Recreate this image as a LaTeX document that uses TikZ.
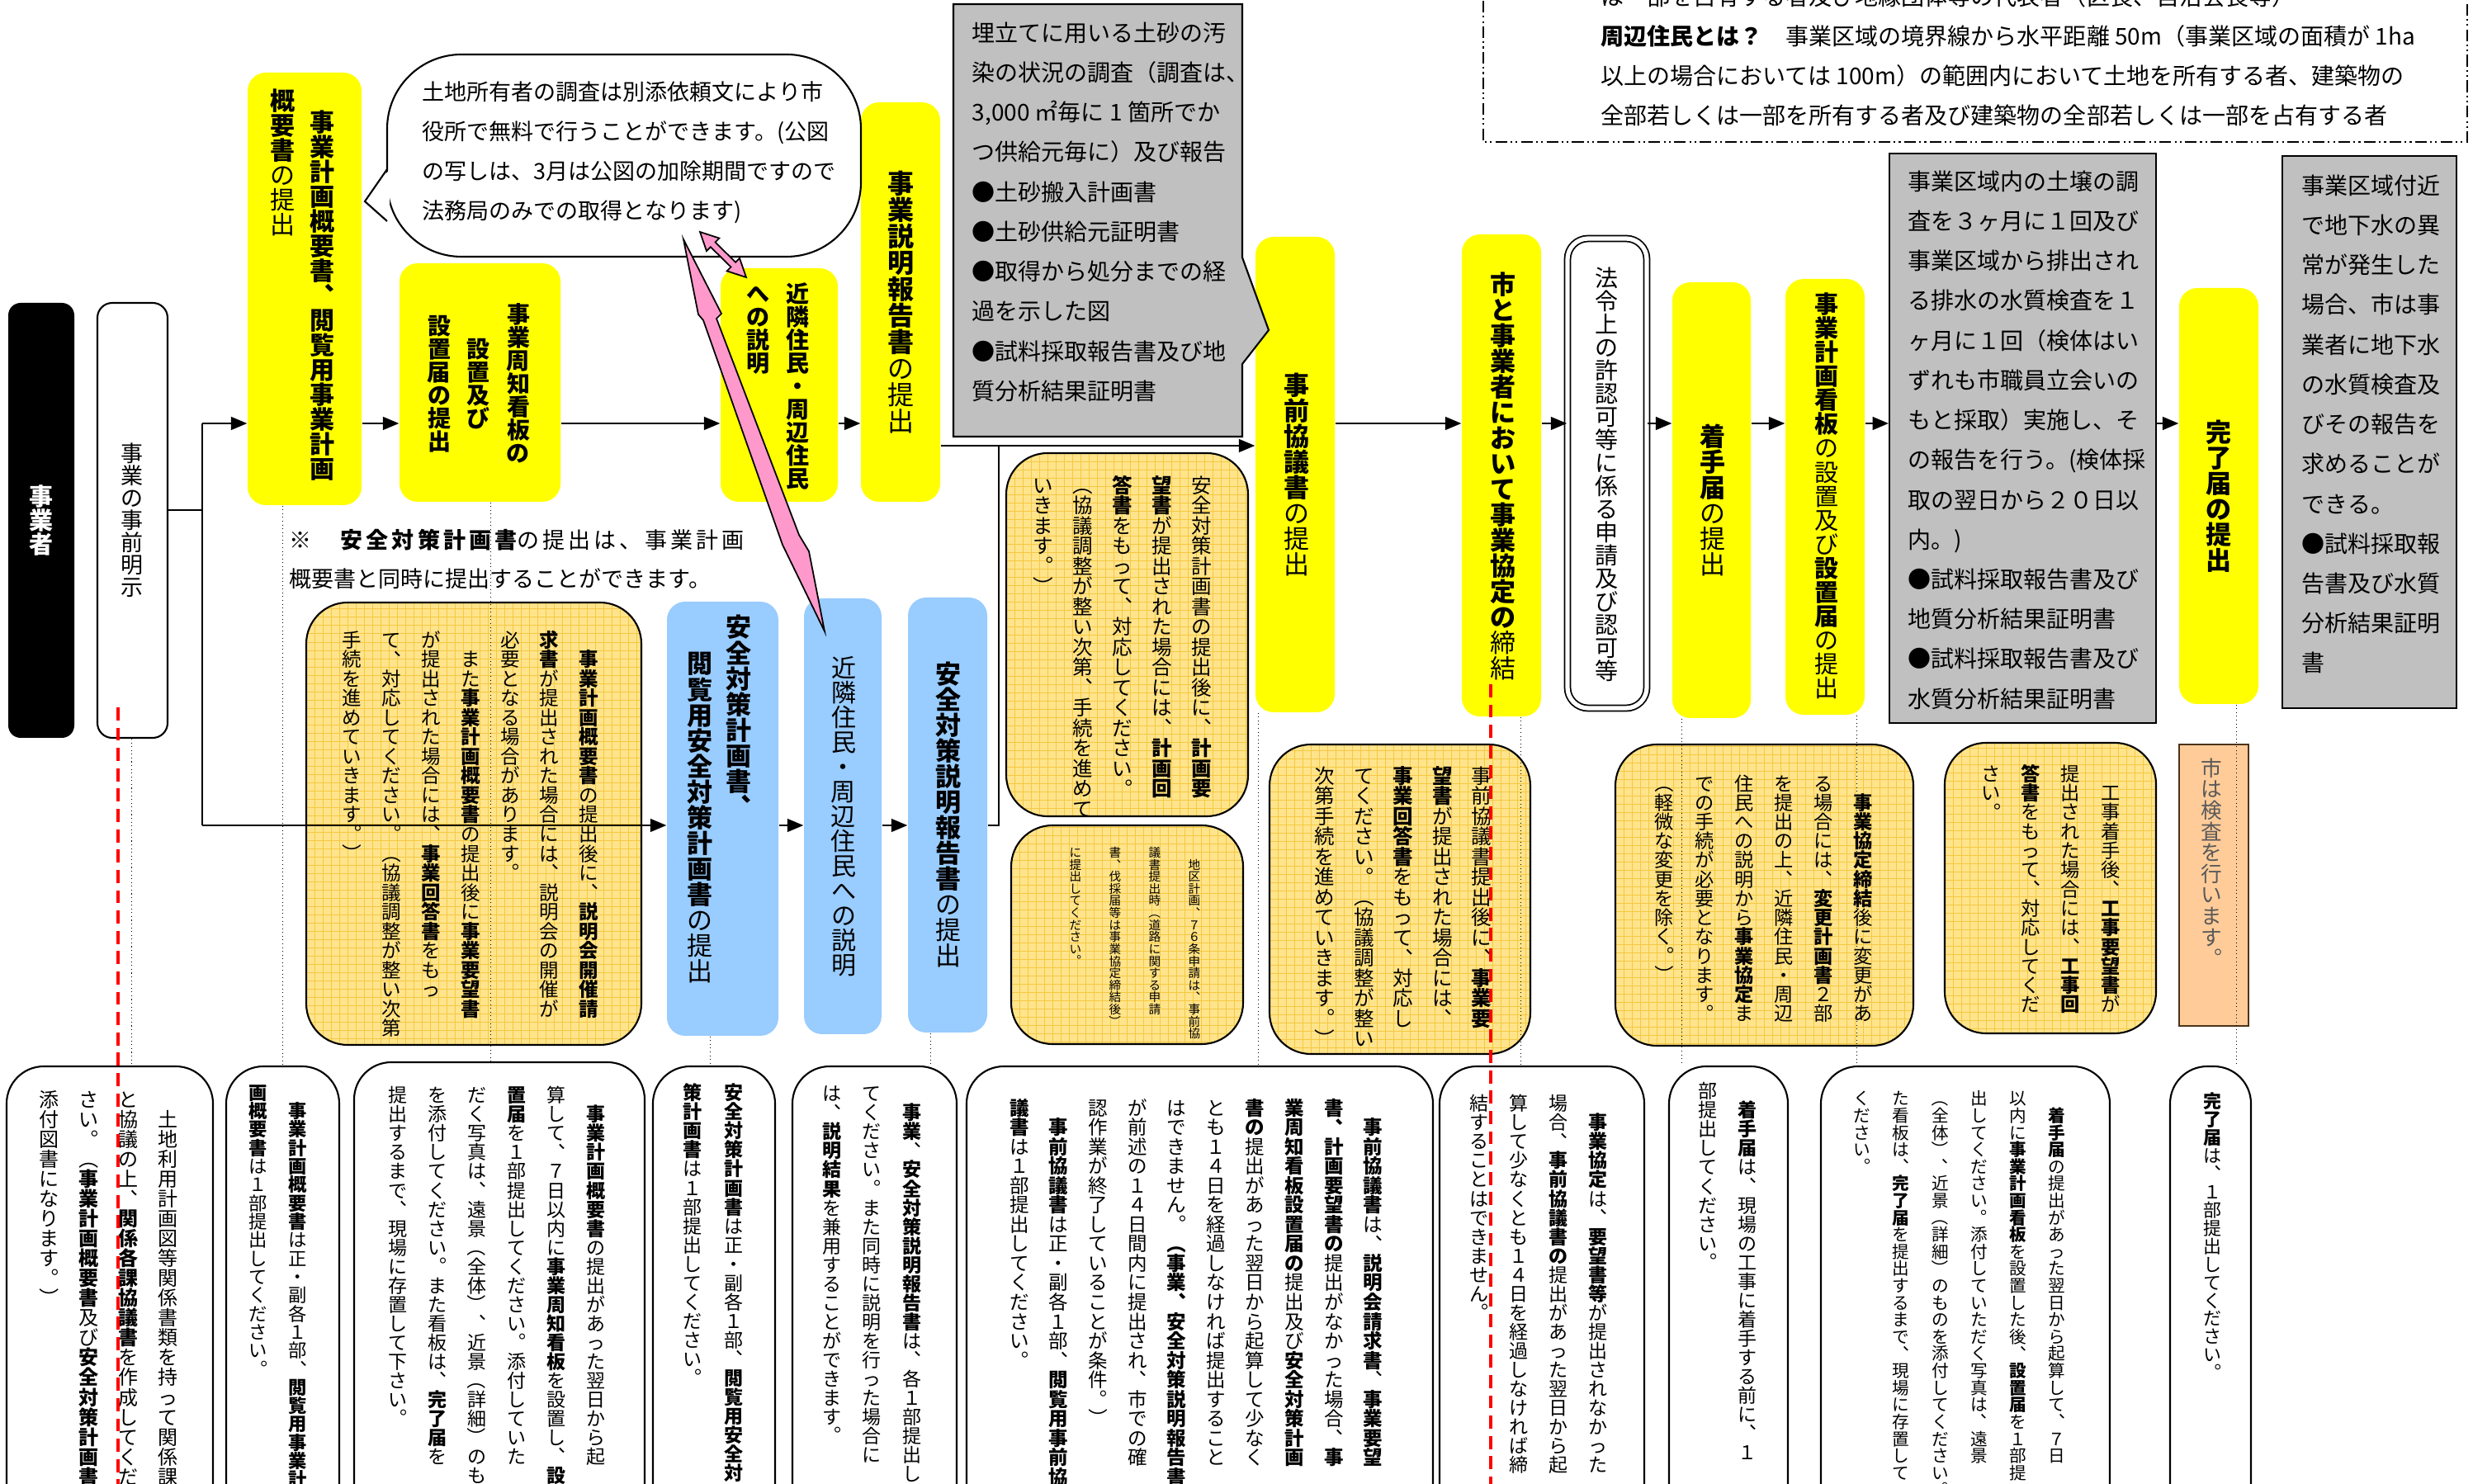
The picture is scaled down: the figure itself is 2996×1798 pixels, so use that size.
\documentclass[tikz,border=0pt]{standalone}
\usepackage{fontspec}
\usepackage{graphicx}
\usetikzlibrary{arrows.meta,fit}
\newfontfamily\hjp{Noto Sans CJK JP}
\definecolor{flowyellow}{HTML}{FFFF00}
\definecolor{flowblue}{HTML}{99CCFF}
\definecolor{notegray}{HTML}{C0C0C0}
\definecolor{memoyellow}{HTML}{FFE48C}
\definecolor{memogrid}{HTML}{F5C842}
\definecolor{checkorange}{HTML}{FFCC99}
\definecolor{linkpink}{HTML}{FF99CC}
\newcommand\sz[2]{\fontsize{\fpeval{#1*0.2845}pt}{\fpeval{#2*0.2845}pt}\selectfont}
\newcommand\bd[1]{{\bfseries#1}}

% vertical (tategaki) columns: every glyph is turned so that it stands upright
% once the whole node is turned by -90
\ExplSyntaxOn
\seq_new:N \l__vt_lines_seq
\tl_const:Nn \c__vt_side_tl { （）「」ー～… }
\tl_const:Nn \c__vt_punct_tl { 、。，． }
\cs_new_protected:Npn \__vt_cell:n #1
  { \hbox_to_wd:nn { 1em } { \hss #1 \hss \vrule ~ height ~ 0.88em ~ depth ~ 0.12em ~ width ~ 0pt } }
\cs_new_protected:Npn \__vt_glyph:N #1
  {
    \tl_if_in:NnTF \c__vt_side_tl {#1}
      { \__vt_cell:n {#1} }
      {
        \tl_if_in:NnTF \c__vt_punct_tl {#1}
          { \rotatebox[origin=c]{-90}{ \__vt_cell:n {#1} } }
          { \rotatebox[origin=c]{90}{ \__vt_cell:n {#1} } }
      }
  }
\cs_new_protected:Npn \__vt_item:n #1
  {
    \tl_if_single_token:nTF {#1}
      { \token_if_cs:NTF #1 {#1} { \__vt_glyph:N #1 } }
      { \group_begin: \__vt_line:n {#1} \group_end: }
  }
\cs_new_protected:Npn \__vt_line:n #1
  { \tl_map_function:nN {#1} \__vt_item:n }
\NewDocumentCommand \vtxt { m }
  {
    \seq_set_split:Nnn \l__vt_lines_seq { \\ } {#1}
    \vbox:n { \seq_map_inline:Nn \l__vt_lines_seq { \hbox:n { \__vt_line:n {##1} } } }
  }
\ExplSyntaxOff

\begin{document}
\begin{tikzpicture}[x=0.01cm, y=-0.01cm,
  stepbox/.style={fill=flowyellow, rounded corners=0.22cm, inner sep=0pt},
  safebox/.style={fill=flowblue, rounded corners=0.22cm, inner sep=0pt},
  graybox/.style={fill=notegray, draw=black, line width=0.6pt, inner sep=0pt},
  memo/.style={draw=black, line width=0.6pt, fill=memoyellow, rounded corners=0.5cm, inner sep=0pt,
    path picture={\draw[memogrid, line width=0.2pt, step=0.1cm] (path picture bounding box.south west) grid (path picture bounding box.north east);}},
  remark/.style={draw=black, line width=0.6pt, fill=white, rounded corners=0.45cm, inner sep=0pt},
  vt/.style n args={2}{rotate=-90, anchor=north west, inner sep=0pt, font=\hjp\sz{#1}{#2}},
  ht/.style n args={2}{anchor=north west, inner sep=0pt, align=left, font=\hjp\sz{#1}{#2}},
  arr/.style={draw, line width=0.5pt, -{Triangle[length=5.5pt,width=4.5pt]}},
  link/.style={draw, line width=0.5pt},
  guide/.style={draw, line width=0.3pt, densely dotted},
  cut/.style={draw=red, line width=1.2pt, dash pattern=on 4.5pt off 2.5pt},
  pinkarrow/.style={fill=linkpink, draw=black, line width=0.5pt}]
\useasboundingbox (0,0) rectangle (2996,1798);
\fill[white] (0,0) rectangle (2996,1798);

% definitions box at the top
\draw[line width=0.5pt, dash pattern=on 4pt off 1.2pt on 0.6pt off 1.2pt on 0.6pt off 1.2pt] (1797,-30) rectangle (2989,172);
\node[ht={28}{48}] (define) at (1939,-18) {は一部を占有する者及び地縁団体等の代表者（区長、自治会長等）\\\bd{周辺住民とは？}　事業区域の境界線から水平距離 50m（事業区域の面積が 1ha\\以上の場合においては 100m）の範囲内において土地を所有する者、建築物の\\全部若しくは一部を所有する者及び建築物の全部若しくは一部を占有する者};

% actor and first step
\node[fill=black, rounded corners=0.15cm, inner sep=0pt, fit={(10,367)(90,894)}] (actor) {};
\node[draw=black, line width=0.6pt, fill=white, rounded corners=0.18cm, inner sep=0pt, fit={(118,367)(203,894)}] (prior) {};

% main steps
\node[stepbox, fit={(300,88)(438,612)}] (outline) {};
\node[stepbox, fit={(484,319)(679,608)}] (notice) {};
\node[stepbox, fit={(873,325)(1015,608)}] (explainA) {};
\node[stepbox, fit={(1043,124)(1139,608)}] (report) {};
\node[stepbox, fit={(1521,287)(1617,863)}] (consult) {};
\node[stepbox, fit={(1771,284)(1867,868)}] (agree) {};
\node[draw=black, double=white, double distance=1.5pt, line width=0.5pt, rounded corners=0.25cm, inner sep=0pt, fit={(1899,289)(1995,858)}] (permit) {};
\node[stepbox, fit={(2026,342)(2121,870)}] (start) {};
\node[stepbox, fit={(2163,338)(2259,866)}] (board) {};
\node[graybox, fit={(2289,186)(2612,876)}] (survey) {};
\node[stepbox, fit={(2640,349)(2736,853)}] (finish) {};
\node[graybox, fit={(2765,189)(2976,858)}] (ground) {};

\node[safebox, fit={(808,729)(943,1255)}] (safety) {};
\node[safebox, fit={(974,725)(1068,1253)}] (explainB) {};
\node[safebox, fit={(1100,724)(1196,1251)}] (safereport) {};

% soil note and land owner bubble
\draw[graybox] (1155,5) -- (1505,5) -- (1505,312) -- (1537,400) -- (1505,441) -- (1505,529) -- (1155,529) -- cycle;
\node[draw=black, line width=0.6pt, fill=white, rounded corners=0.9cm, inner sep=0pt, fit={(469,66)(1043,311)}] (bubble) {};
\fill[white] (472,205) -- (442,244) -- (472,268) -- cycle;
\draw[line width=0.6pt] (469,205) -- (442,244) -- (469,268);

% memos
\node[memo, fit={(371,730)(777,1266)}] (memoA) {};
\node[memo, fit={(1219,549)(1512,989)}] (memoB) {};
\node[memo, fit={(1225,1000)(1506,1265)}] (memoC) {};
\node[memo, fit={(1538,902)(1854,1277)}] (memoD) {};
\node[memo, fit={(1957,902)(2318,1267)}] (memoE) {};
\node[memo, fit={(2356,900)(2612,1252)}] (memoF) {};
\node[fill=checkorange, draw=black!60!brown, line width=0.8pt, inner sep=0pt, fit={(2640,902)(2724,1243)}] (check) {};

% remarks at the bottom
\node[remark, fit={(8,1292)(258,1900)}] (remA) {};
\node[remark, fit={(274,1292)(411,1900)}] (remB) {};
\node[remark, fit={(429,1287)(781,1900)}] (remC) {};
\node[remark, fit={(791,1292)(939,1900)}] (remD) {};
\node[remark, fit={(960,1292)(1159,1900)}] (remE) {};
\node[remark, fit={(1171,1292)(1736,1900)}] (remF) {};
\node[remark, fit={(1744,1292)(1992,1900)}] (remG) {};
\node[remark, fit={(2022,1292)(2166,1900)}] (remH) {};
\node[remark, fit={(2206,1292)(2556,1900)}] (remI) {};
\node[remark, fit={(2629,1292)(2727,1900)}] (remJ) {};

% connectors
\coordinate (fork) at (245,618);
\coordinate (upper) at (245,513);
\coordinate (lower) at (245,1000);
\coordinate (merge) at (1210,540);
\coordinate (main) at (1700,513);
\draw[link] (prior.east |- fork) -- (fork);
\draw[link] (upper) -- (lower);
\draw[arr] (upper) -- (upper -| outline.west);
\draw[arr] (outline.east |- upper) -- (notice.west |- upper);
\draw[arr] (notice.east |- upper) -- (explainA.west |- upper);
\draw[arr] (explainA.east |- upper) -- (report.west |- upper);
\draw[arr] (report.east |- merge) -- (consult.west |- merge);
\draw[arr] (lower) -- (lower -| safety.west);
\draw[arr] (safety.east |- lower) -- (explainB.west |- lower);
\draw[arr] (explainB.east |- lower) -- (safereport.west |- lower);
\draw[link] (safereport.east |- lower) -| (merge);
\draw[arr] (consult.east |- main) -- (agree.west |- main);
\draw[arr] (agree.east |- main) -- (permit.west |- main);
\draw[arr] (permit.east |- main) -- (start.west |- main);
\draw[arr] (start.east |- main) -- (board.west |- main);
\draw[arr] (board.east |- main) -- (survey.west |- main);
\draw[arr] (survey.east |- main) -- (finish.west |- main);

% pink arrows
\draw[pinkarrow] (828,290) -- (874,380) -- (868,386) -- (968,648) -- (980,668) -- (999,765) -- (948,660) -- (852,388) -- (846,381) -- cycle;
\draw[pinkarrow] (848,281) -- (871.4,288.6) -- (866.5,293.5) -- (891.1,317.7) -- (896,312.8) -- (904,336) -- (880.6,328.4) -- (885.5,323.5) -- (860.9,299.3) -- (856,304.2) -- cycle;

% texts of the steps
\node[vt={29}{48}, anchor=center, text=white] at (actor) {\vtxt{\bfseries 事業者}};
\node[vt={27}{48}, anchor=center] at (prior) {\vtxt{事業の事前明示}};
\node[vt={30}{48}] at (406,132) {\vtxt{\bfseries 事業計画概要書、閲覧用事業計画}};
\node[vt={30}{48}] at (358,106) {\vtxt{\bfseries 概要書\mdseries の提出}};
\node[vt={28}{48}, anchor=center] at (628,465) {\vtxt{\bfseries 事業周知看板の}};
\node[vt={28}{48}, anchor=center] at (580,465) {\vtxt{\bfseries 設置及び}};
\node[vt={28}{48}, anchor=center] at (532,465) {\vtxt{\bfseries 設置届の提出}};
\node[vt={28}{48}] at (981,341) {\vtxt{\bfseries 近隣住民・周辺住民\\\bfseries への説明}};
\node[vt={32}{48}, anchor=center] at (1091,366) {\vtxt{\bfseries 事業説明報告書\mdseries の提出}};
\node[vt={31}{48}, anchor=center] at (1571,575) {\vtxt{\bfseries 事前協議書\mdseries の提出}};
\node[vt={31}{48}, anchor=center] at (1821,577) {\vtxt{\bfseries 市と事業者において事業協定の\mdseries 締結}};
\node[vt={28}{48}, anchor=center] at (1946,575) {\vtxt{法令上の許認可等に係る申請及び認可等}};
\node[vt={31}{48}, anchor=center] at (2075,606) {\vtxt{\bfseries 着手届\mdseries の提出}};
\node[vt={29}{48}, anchor=center] at (2213,601) {\vtxt{\bfseries 事業計画看板\mdseries の設置及び\bfseries 設置届\mdseries の提出}};
\node[vt={31}{48}, anchor=center] at (2688,601) {\vtxt{\bfseries 完了届の提出}};
\node[vt={31}{48}] at (911,744) {\vtxt{\bfseries 安全対策計画書、}};
\node[vt={31}{48}] at (864,788) {\vtxt{\bfseries 閲覧用安全対策計画書\mdseries の提出}};
\node[vt={30}{48}, anchor=center] at (1022,989) {\vtxt{近隣住民・周辺住民への説明}};
\node[vt={31}{48}, anchor=center] at (1149,987) {\vtxt{\bfseries 安全対策説明報告書\mdseries の提出}};

% horizontal notes
\node[ht={27}{48}] at (511,98) {土地所有者の調査は別添依頼文により市\\役所で無料で行うことができます。(公図\\の写しは、3月は公図の加除期間ですので\\法務局のみでの取得となります)};
\node[ht={28}{48.2}] at (1177,26) {埋立てに用いる土砂の汚\\染の状況の調査（調査は、\\3,000 ㎡毎に 1 箇所でか\\つ供給元毎に）及び報告\\●土砂搬入計画書\\●土砂供給元証明書\\●取得から処分までの経\\過を示した図\\●試料採取報告書及び地\\質分析結果証明書};
\node[ht={28}{48.2}] at (2311,206) {事業区域内の土壌の調\\査を３ヶ月に１回及び\\事業区域から排出され\\る排水の水質検査を１\\ヶ月に１回（検体はい\\ずれも市職員立会いの\\もと採取）実施し、そ\\の報告を行う。(検体採\\取の翌日から２０日以\\内。)\\●試料採取報告書及び\\地質分析結果証明書\\●試料採取報告書及び\\水質分析結果証明書};
\node[ht={28}{48.2}] at (2788,211) {事業区域付近\\で地下水の異\\常が発生した\\場合、市は事\\業者に地下水\\の水質検査及\\びその報告を\\求めることが\\できる。\\●試料採取報\\告書及び水質\\分析結果証明\\書};
\node[ht={27}{48}] at (350,640) {\addfontfeatures{LetterSpace=15}\bd{※　安全対策計画書}の提出は、事業計画};
\node[ht={27}{48}] at (350,688) {概要書と同時に提出することができます。};

% memo texts
\node[vt={23.5}{47.8}] at (726,763) {\vtxt{　{\bfseries 事業計画概要書}の提出後に、{\bfseries 説明会開催請}\\{\bfseries 求書}が提出された場合には、説明会の開催が\\必要となる場合があります。\\　また{\bfseries 事業計画概要書}の提出後に{\bfseries 事業要望書}\\が提出された場合には、{\bfseries 事業回答書}をもっ\\て、対応してください。（協議調整が整い次第\\手続を進めていきます。）}};
\node[vt={24.5}{48}] at (1469,575) {\vtxt{安全対策計画書の提出後に、{\bfseries 計画要}\\{\bfseries 望書}が提出された場合には、{\bfseries 計画回}\\{\bfseries 答書}をもって、対応してください。\\（協議調整が整い次第、手続を進めて\\いきます。）}};
\node[vt={14.6}{48}] at (1455,1025) {\vtxt{　地区計画、７６条申請は、事前協\\議書提出時（道路に関する申請\\書、伐採届等は事業協定締結後）\\に提出してください。}};
\node[vt={24.5}{47.5}] at (1808,927) {\vtxt{事前協議書提出後に、{\bfseries 事業要}\\{\bfseries 望書}が提出された場合には、\\{\bfseries 事業回答書}をもって、対応し\\てください。（協議調整が整い\\次第手続を進めていきます。）}};
\node[vt={23.2}{48}] at (2269,937) {\vtxt{　{\bfseries 事業協定締結}後に変更があ\\る場合には、{\bfseries 変更計画書}２部\\を提出の上、近隣住民・周辺\\住民への説明から{\bfseries 事業協定}ま\\での手続が必要となります。\\（軽微な変更を除く。）}};
\node[vt={23.3}{48}] at (2569,925) {\vtxt{　工事着手後、{\bfseries 工事要望書}が\\提出された場合には、{\bfseries 工事回}\\{\bfseries 答書}をもって、対応してくだ\\さい。}};
\node[vt={25.6}{48}, text=black!65] at (2693,917) {\vtxt{市は検査を行います。}};

% remark texts
\node[vt={24}{48}] at (216,1320) {\vtxt{　土地利用計画図等関係書類を持って関係課\\と協議の上、{\bfseries 関係各課協議書}を作成してくだ\\さい。（{\bfseries 事業計画概要書}及び{\bfseries 安全対策計画書}の\\添付図書になります。）}};
\node[vt={22.3}{48}] at (373,1312) {\vtxt{　{\bfseries 事業計画概要書}は正・副各１部、{\bfseries 閲覧用事業計}\\{\bfseries 画概要書}は１部提出してください。}};
\node[vt={23}{48}] at (734,1315) {\vtxt{　{\bfseries 事業計画概要書}の提出があった翌日から起\\算して、７日以内に{\bfseries 事業周知看板}を設置し、{\bfseries 設}\\{\bfseries 置届}を１部提出してください。添付していた\\だく写真は、遠景（全体）、近景（詳細）のもの\\を添付してください。また看板は、{\bfseries 完了届}を\\提出するまで、現場に存置して下さい。}};
\node[vt={23}{50}] at (901,1312) {\vtxt{{\bfseries 安全対策計画書}は正・副各１部、{\bfseries 閲覧用安全対}\\{\bfseries 策計画書}は１部提出してください。}};
\node[vt={23}{48.5}] at (1117,1313) {\vtxt{　{\bfseries 事業}、{\bfseries 安全対策説明報告書}は、各１部提出し\\てください。また同時に説明を行った場合に\\は、{\bfseries 説明結果}を兼用することができます。}};
\node[vt={23.5}{47.6}] at (1676,1330) {\vtxt{　{\bfseries 事前協議書}は、{\bfseries 説明会請求書}、{\bfseries 事業要望}\\{\bfseries 書、計画要望書の}提出がなかった場合、{\bfseries 事}\\{\bfseries 業周知看板設置届の}提出及び{\bfseries 安全対策計画}\\{\bfseries 書の}提出があった翌日から起算して少なく\\とも１４日を経過しなければ提出すること\\はできません。{\bfseries （事業、安全対策説明報告書}\\が前述の１４日間内に提出され、市での確\\認作業が終了していることが条件。）\\　{\bfseries 事前協議書}は正・副各１部、{\bfseries 閲覧用事前協}\\{\bfseries 議書}は１部提出してください。}};
\node[vt={23}{48}] at (1948,1325) {\vtxt{　{\bfseries 事業協定}は、{\bfseries 要望書等}が提出されなかった\\場合、{\bfseries 事前協議書の}提出があった翌日から起\\算して少なくとも１４日を経過しなければ締\\結することはできません。}};
\node[vt={23}{48}] at (2129,1310) {\vtxt{　{\bfseries 着手届}は、現場の工事に着手する前に、１\\部提出してください。}};
\node[vt={20.6}{47.2}] at (2503,1320) {\vtxt{　{\bfseries 着手届}の提出があった翌日から起算して、７日\\以内に{\bfseries 事業計画看板}を設置した後、{\bfseries 設置届}を１部提\\出してください。添付していただく写真は、遠景\\（全体）、近景（詳細）のものを添付してください。ま\\た看板は、{\bfseries 完了届}を提出するまで、現場に存置して\\ください。}};
\node[vt={21.9}{48}] at (2692,1323) {\vtxt{{\bfseries 完了届}は、１部提出してください。}};

% dotted guides from the steps down to their remarks
\draw[guide] ([xshift=0.43cm]prior.south west) coordinate (g1) -- (g1 |- remA.north);
\draw[guide] ([xshift=0.43cm]outline.south west) coordinate (g2) -- (g2 |- remB.north);
\draw[guide] ([xshift=1.11cm]notice.south west) coordinate (g3) -- (g3 |- remC.north);
\draw[guide] ([xshift=0.53cm]safety.south west) coordinate (g4) -- (g4 |- remD.north);
\draw[guide] ([xshift=0.28cm]safereport.south west) coordinate (g5) -- (g5 |- remE.north);
\draw[guide] ([xshift=0.04cm]consult.south west) coordinate (g6) -- (g6 |- remF.north);
\draw[guide] ([xshift=0.72cm]agree.south west) coordinate (g7) -- (g7 |- remG.north);
\draw[guide] ([xshift=0.12cm]start.south west) coordinate (g8) -- (g8 |- remH.north);
\draw[guide] ([xshift=0.87cm]board.south west) coordinate (g9) -- (g9 |- remI.north);
\draw[guide] ([xshift=0.70cm]finish.south west) coordinate (g10) -- (g10 |- remJ.north);

% red cut lines
\coordinate (cutA) at (143,857);
\coordinate (cutB) at (1806,829);
\draw[cut] (cutA) -- ++(0,960);
\draw[cut] (cutB) -- ++(0,990);
\end{tikzpicture}
\end{document}
